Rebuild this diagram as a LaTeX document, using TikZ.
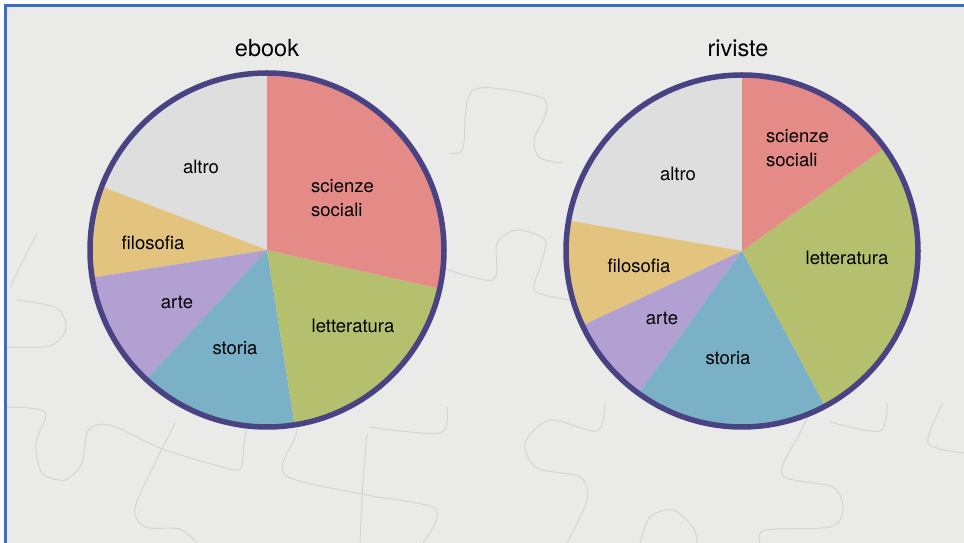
\documentclass[tikz,border=0pt]{standalone}
\usepackage{fontspec}
\setmainfont{TeX Gyre Heros}
\definecolor{frameblue}{HTML}{3B6DC2}
\definecolor{ringcol}{HTML}{4A4383}
\definecolor{sciencecol}{HTML}{E48A87}
\definecolor{letcol}{HTML}{B5C06F}
\definecolor{storcol}{HTML}{7AB1C6}
\definecolor{artcol}{HTML}{B3A0D2}
\definecolor{filcol}{HTML}{E3C47E}
\definecolor{altcol}{HTML}{DFDEDE}
\definecolor{paper}{HTML}{EAEAE8}
\definecolor{seam}{HTML}{D4D4D2}

\begin{document}
\begin{tikzpicture}[x=1pt,y=1pt,
  lab/.style={font=\fontsize{18.5}{23.5}\selectfont, inner sep=0pt},
  title/.style={font=\fontsize{23.5}{28}\selectfont, inner sep=0pt},
  ring/.style={draw=ringcol, line width=5.5pt},
  seamline/.style={draw=seam, line width=1pt}]
  \useasboundingbox (0,0) rectangle (964,543);
  \fill[white] (0,0) rectangle (964,543);
  \fill[paper] (5,0) rectangle (964,538);

  % puzzle seams
  \draw[seamline] plot[smooth, tension=0.5] coordinates {(7,136) (45,131) (36,100) (42,70) (65,63) (82,80) (88,112) (110,118) (160,95) (215,78) (240,74) (244,100) (247,120)};
  \draw[seamline] plot[smooth, tension=0.5] coordinates {(175,120) (155,80) (135,35) (145,16) (180,14) (197,0)};
  \draw[seamline] plot[smooth, tension=0.5] coordinates {(302,140) (296,108) (285,68) (367,48) (436,34) (423,0)};
  \draw[seamline] plot[smooth, tension=0.5] coordinates {(367,110) (363,60) (360,0)};
  \draw[seamline] plot[smooth, tension=0.5] coordinates {(370,116) (440,110) (447,136)};
  \draw[seamline] plot[smooth, tension=0.5] coordinates {(605,140) (597,112) (550,123) (525,100) (537,75) (580,66) (587,43) (567,0)};
  \draw[seamline] plot[smooth, tension=0.5] coordinates {(815,140) (800,110) (782,68) (833,56) (843,33) (830,16) (765,13) (760,0)};
  \draw[seamline] plot[smooth, tension=0.5] coordinates {(640,0) (650,26) (673,33) (693,16) (697,0)};
  \draw[seamline] plot[smooth, tension=0.5] coordinates {(887,140) (880,112) (830,121)};
  \draw[seamline] plot[smooth, tension=0.5] coordinates {(943,140) (928,100) (964,90)};
  \draw[seamline] plot[smooth, tension=0.5] coordinates {(440,276) (493,263) (497,300) (517,313) (545,303) (540,276) (535,252) (570,243)};
  \draw[seamline] plot[smooth, tension=0.5] coordinates {(450,390) (463,395) (473,453) (540,446) (546,430) (534,403) (540,385) (563,380)};
  \draw[seamline] plot[smooth, tension=0.5] coordinates {(7,196) (50,197) (66,214) (57,235) (17,243)};
  \draw[seamline] plot[smooth, tension=0.5] coordinates {(37,310) (22,280) (10,256)};

  % ebook
  \coordinate (cE) at (267,293);
  \foreach \s/\e/\c in {90/159/altcol, 159/189/filcol, 189/227/artcol, 227/279/storcol, 279/347.4/letcol, 347.4/450/sciencecol}
    \fill[\c] (cE) -- ++(\s:177) arc[start angle=\s, end angle=\e, radius=177] -- cycle;
  \draw[ring] (cE) circle[radius=177];
  \node[title] (tE) at (267,495) {ebook};
  \node[lab] (altE) at (201,376) {altro};
  \node[lab, align=left, anchor=west] (sciE) at (311,345) {scienze\\sociali};
  \node[lab] (filE) at (153,300) {filosofia};
  \node[lab] (artE) at (177,241) {arte};
  \node[lab] (stoE) at (235,195) {storia};
  \node[lab] (letE) at (353,217) {letteratura};

  % riviste
  \coordinate (cR) at (742,292);
  \foreach \s/\e/\c in {90/170/altcol, 170/205/filcol, 205/234/artcol, 234/298.2/storcol, 298.2/395.9/letcol, 395.9/450/sciencecol}
    \fill[\c] (cR) -- ++(\s:176) arc[start angle=\s, end angle=\e, radius=176] -- cycle;
  \draw[ring] (cR) circle[radius=176];
  \node[title] (tR) at (738,495) {riviste};
  \node[lab] (altR) at (678,369) {altro};
  \node[lab, align=left, anchor=west] (sciR) at (766,395) {scienze\\sociali};
  \node[lab] (filR) at (639,277) {filosofia};
  \node[lab] (artR) at (662,225) {arte};
  \node[lab] (stoR) at (728,185) {storia};
  \node[lab] (letR) at (847,285) {letteratura};

  \draw[frameblue, line width=2.7pt] (5.3,0) -- (5.3,537.7) -- (964,537.7);
\end{tikzpicture}
\end{document}
